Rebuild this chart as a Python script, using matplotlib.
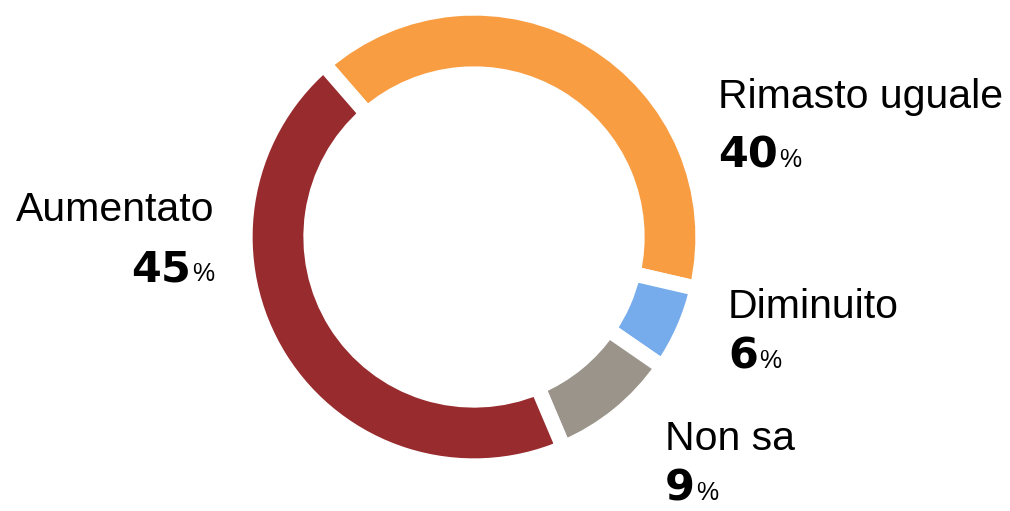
import matplotlib
matplotlib.use('Agg')
import matplotlib.pyplot as plt

# dati del grafico
etichette = ['Rimasto uguale', 'Diminuito', 'Non sa', 'Aumentato']
valori = [40, 6, 9, 45]
colori = ['#F89D42', '#76ABEC', '#9A948A', '#982B2E']

W, H = 1010, 511
fig = plt.figure(figsize=(W / 100, H / 100), dpi=100)
ax = fig.add_axes([0, 0, 1, 1])

# ciambella: bordo bianco per le separazioni tra gli spicchi
ax.pie(valori, colors=colori, startangle=131, counterclock=False,
       radius=229, center=(474, H - 237),
       wedgeprops=dict(width=66, edgecolor='white', linewidth=11))
ax.set_xlim(0, W)
ax.set_ylim(0, H)
ax.set_aspect('equal')
ax.axis('off')

font_label = dict(family=['Liberation Sans', 'DejaVu Sans'], size=29.5, color='black')
font_num = dict(family='DejaVu Sans', weight='heavy', size=31, color='black')
font_pct = dict(family=['Liberation Sans', 'DejaVu Sans'], size=18, color='black')

# posizioni in pixel (x, baseline etichetta, baseline numero, allineamento)
posizioni = {
    'Rimasto uguale': (718, 108, 167, 'left'),
    'Diminuito': (728, 318, 368, 'left'),
    'Non sa': (665, 450, 500, 'left'),
    'Aumentato': (214, 221, 281, 'right'),
}

fig.canvas.draw()
renderer = fig.canvas.get_renderer()

for etichetta, valore in zip(etichette, valori):
    x, y_lab, y_num, ha = posizioni[etichetta]
    ax.text(x, H - y_lab, etichetta, ha=ha, va='baseline', **font_label)
    if ha == 'left':
        t = ax.text(x, H - y_num, str(valore), ha='left', va='baseline', **font_num)
        bb = t.get_window_extent(renderer)
        ax.text(bb.x1 + 1, H - y_num, '%', ha='left', va='baseline', **font_pct)
    else:
        p = ax.text(x, H - y_num, '%', ha='right', va='baseline', **font_pct)
        bb = p.get_window_extent(renderer)
        ax.text(bb.x0 - 1, H - y_num, str(valore), ha='right', va='baseline', **font_num)

fig.savefig('out.png', dpi=100)
